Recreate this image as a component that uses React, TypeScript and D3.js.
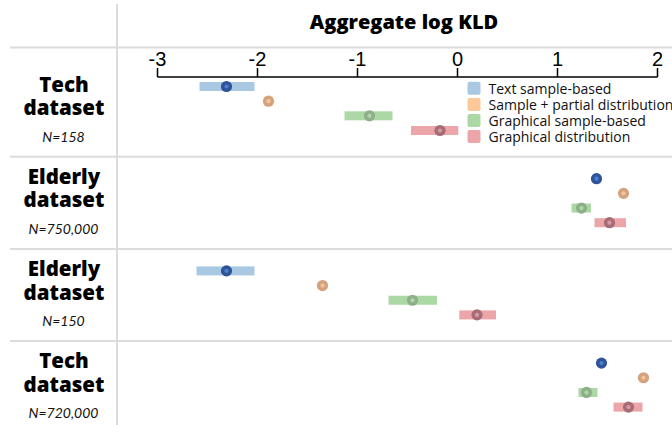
import React from "react";
import * as d3 from "d3";

const datasetTitles = ["Tech", "Elderly", "Elderly", "Tech"];
const datasetN = ["N=158", "N=750,000", "N=150", "N=720,000"];
const seriesNames = [
  "Text sample-based",
  "Sample + partial distribution",
  "Graphical sample-based",
  "Graphical distribution",
];
const xTicks = [-3, -2, -1, 0, 1, 2];

const textMean = [-2.31, 1.39, -2.31, 1.44];
const textLo = [-2.58, 1.36, -2.61, 1.41];
const textHi = [-2.03, 1.42, -2.03, 1.47];

const partialMean = [-1.89, 1.66, -1.35, 1.86];
const partialLo = [-1.93, 1.63, -1.38, 1.83];
const partialHi = [-1.85, 1.69, -1.32, 1.89];

const graphSampleMean = [-0.88, 1.24, -0.45, 1.29];
const graphSampleLo = [-1.13, 1.14, -0.69, 1.21];
const graphSampleHi = [-0.65, 1.335, -0.205, 1.4];

const graphDistMean = [-0.175, 1.52, 0.195, 1.71];
const graphDistLo = [-0.465, 1.37, 0.018, 1.56];
const graphDistHi = [0.008, 1.685, 0.385, 1.85];

const barColors = ["#a9c9e2", "#fcc89a", "#acd8a6", "#eca5a9"];
const dotColors = ["#2d5498", "#d4a27c", "#8db089", "#a66d76"];
const innerColors = ["#4f7fc8", "#f3c59d", "#b3d5ae", "#d79aa3"];

const means = [textMean, partialMean, graphSampleMean, graphDistMean];
const los = [textLo, partialLo, graphSampleLo, graphDistLo];
const his = [textHi, partialHi, graphSampleHi, graphDistHi];

export default function App() {
  const W = 672;
  const H = 425;
  const x = d3.scaleLinear().domain([-3, 2]).range([157.5, 657.5]);
  const rowIdx = datasetTitles.map((_, i) => String(i));
  const y = d3.scaleBand().domain(rowIdx).range([64.5, 433.3]).padding(0);
  const inner = d3.scalePoint().domain(seriesNames).range([22, 66]);
  const axisY = 77;
  const grid = "#dcdcdc";
  const boldFont = "'Open Sans', Lato, sans-serif";

  return (
    <svg
      width={W}
      height={H}
      style={{ position: "absolute", left: 0, top: 0, background: "#fff" }}
    >
      <line x1={117} x2={117} y1={4} y2={H} stroke={grid} strokeWidth={2} />
      <line x1={10} x2={W} y1={47.5} y2={47.5} stroke={grid} strokeWidth={2} />
      {rowIdx.slice(1).map((r) => (
        <line key={r} x1={10} x2={W} y1={y(r)!} y2={y(r)!} stroke={grid} strokeWidth={2} />
      ))}

      <text
        x={404}
        y={29}
        textAnchor="middle"
        fontFamily={boldFont}
        fontWeight={800}
        fontSize={20}
        fill="#000"
      >
        Aggregate log KLD
      </text>

      <line x1={x(-3)} x2={x(2)} y1={axisY} y2={axisY} stroke="#000" strokeWidth={1.5} />
      {xTicks.map((t) => (
        <g key={t}>
          <line x1={x(t)} x2={x(t)} y1={axisY} y2={axisY - 9} stroke="#000" strokeWidth={1.5} />
          <text
            x={x(t)}
            y={66}
            textAnchor="middle"
            fontFamily="'Liberation Sans', Arial, sans-serif"
            fontSize={20}
            fill="#000"
          >
            {t}
          </text>
        </g>
      ))}

      {rowIdx.map((r, i) => {
        const y0 = y(r)!;
        return (
          <g key={r}>
            <text x={64} y={y0 + 27.3} textAnchor="middle" fontFamily={boldFont} fontWeight={800} fontSize={20.5} fill="#000">
              {datasetTitles[i]}
            </text>
            <text x={64} y={y0 + 50.6} textAnchor="middle" fontFamily={boldFont} fontWeight={800} fontSize={20.5} fill="#000">
              dataset
            </text>
            <text
              x={63.5}
              y={y0 + 77}
              textAnchor="middle"
              fontFamily="Lato, sans-serif"
              fontStyle="italic"
              fontSize={14}
              fill="#111"
            >
              {datasetN[i]}
            </text>
          </g>
        );
      })}

      {seriesNames.map((s, si) =>
        rowIdx.map((r, ri) => {
          const cy = y(r)! + inner(s)!;
          const cx = x(means[si][ri]);
          const x0 = x(los[si][ri]);
          const x1 = x(his[si][ri]);
          return (
            <g key={s + r}>
              <rect x={x0} y={cy - 4.5} width={x1 - x0} height={9} fill={barColors[si]} />
              <circle cx={cx} cy={cy} r={5.6} fill={dotColors[si]} />
              <circle cx={cx} cy={cy} r={2.1} fill={innerColors[si]} />
            </g>
          );
        })
      )}

      {seriesNames.map((s, i) => (
        <g key={s} transform={`translate(467.5, ${88.3 + i * 16.1})`}>
          <rect x={0} y={-6.5} width={13} height={13} rx={2} fill={barColors[i]} />
          <text
            x={21}
            y={5.2}
            fontFamily="'Open Sans', sans-serif"
            fontSize={14}
            fill="#111"
          >
            {s}
          </text>
        </g>
      ))}
    </svg>
  );
}
